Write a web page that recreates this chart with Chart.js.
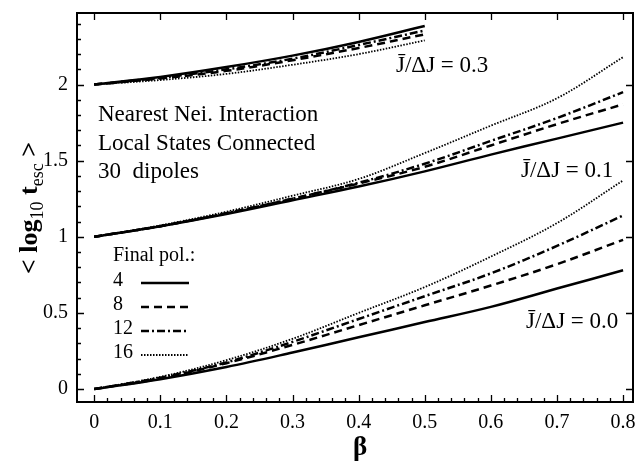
<!DOCTYPE html>
<html>
<head>
<meta charset="utf-8">
<script src="https://cdn.jsdelivr.net/npm/chart.js@4/dist/chart.umd.min.js"></script>
<style>
  html,body{margin:0;padding:0;background:#fff;}
  #wrap{width:639px;height:461px;}
</style>
</head>
<body>
<div id="wrap"><canvas id="chart" width="639" height="461"></canvas></div>
<script>
/* ==========================================
   DATA
========================================== */
const beta = [0,0.1,0.2,0.3,0.4,0.5,0.6,0.7,0.8];

// J/dJ = 0.3 (only up to beta = 0.5)
const top4  = [2.00,2.05,2.115,2.19,2.28,2.385];
const top8  = [2.00,2.04,2.09,2.16,2.24,2.33];
const top12 = [2.00,2.045,2.10,2.17,2.26,2.355];
const top16 = [2.00,2.03,2.07,2.13,2.20,2.29];

// J/dJ = 0.1
const mid4  = [1.00,1.07,1.15,1.24,1.33,1.43,1.54,1.645,1.75];
const mid8  = [1.00,1.07,1.155,1.25,1.35,1.46,1.60,1.74,1.87];
const mid12 = [1.00,1.07,1.155,1.25,1.355,1.48,1.63,1.78,1.95];
const mid16 = [1.00,1.075,1.165,1.27,1.38,1.55,1.73,1.91,2.18];

// J/dJ = 0.0
const low4  = [0.00,0.065,0.145,0.24,0.34,0.44,0.54,0.66,0.78];
const low8  = [0.00,0.07,0.17,0.29,0.42,0.55,0.68,0.82,0.98];
const low12 = [0.00,0.075,0.175,0.31,0.46,0.61,0.76,0.94,1.14];
const low16 = [0.00,0.08,0.19,0.33,0.50,0.67,0.87,1.09,1.37];

const polLabels = ["4","8","12","16"];
const xTicks = [0,0.1,0.2,0.3,0.4,0.5,0.6,0.7,0.8];
const yTicks = [0,0.5,1,1.5,2];

/* ==========================================
   STYLES
========================================== */
const dashes = [[],[8,5],[8,3,2,3],[1.5,1.5]];
const widths = [2.5,2.5,2.5,1.8];

function pts(vals){
  return vals.map((v,i)=>({x:beta[i],y:v}));
}

function ds(vals,k){
  return {
    data:pts(vals),
    borderColor:"#000",
    borderWidth:widths[k],
    borderDash:dashes[k],
    pointRadius:0,
    fill:false,
    tension:0.35
  };
}

const groups = [
  [top4,top8,top12,top16],
  [mid4,mid8,mid12,mid16],
  [low4,low8,low12,low16]
];

const datasets = [];
groups.forEach(g=>{
  g.forEach((vals,k)=>{
    datasets.push(ds(vals,k));
  });
});

const SERIF = "'Liberation Serif', 'Times New Roman', serif";

/* ==========================================
   FRAME, TICKS AND TEXT
========================================== */
const decor = {
  id:"decor",
  afterDraw(chart){
    const ctx = chart.ctx;
    const a = chart.chartArea;
    const xs = chart.scales.x;
    const ys = chart.scales.y;

    ctx.save();
    ctx.strokeStyle = "#000";
    ctx.lineWidth = 2;
    ctx.strokeRect(a.left,a.top,a.right-a.left,a.bottom-a.top);

    ctx.lineWidth = 1.3;
    ctx.beginPath();
    // bottom minor + major, top major
    for(let i=0;i<=40;i++){
      const v = i*0.02;
      const px = Math.round(xs.getPixelForValue(v))+0.5;
      const major = i%5===0;
      ctx.moveTo(px,a.bottom);
      ctx.lineTo(px,a.bottom-(major?7:4));
      if(major){
        ctx.moveTo(px,a.top);
        ctx.lineTo(px,a.top+7);
      }
    }
    // left minor + major, right major
    for(let i=0;i<=24;i++){
      const v = i*0.1;
      const py = Math.round(ys.getPixelForValue(v))+0.5;
      const major = i%5===0;
      ctx.moveTo(a.left,py);
      ctx.lineTo(a.left+(major?7:4),py);
      if(major){
        ctx.moveTo(a.right,py);
        ctx.lineTo(a.right-7,py);
      }
    }
    ctx.stroke();

    // annotation text
    ctx.fillStyle = "#000";
    ctx.textBaseline = "middle";
    ctx.textAlign = "left";
    ctx.font = "23px " + SERIF;
    ctx.fillText("Nearest Nei. Interaction",98,115);
    ctx.fillText("Local States Connected",98,144);
    ctx.fillText("30  dipoles",98,172);

    ctx.fillText("J\u0304/\u0394J = 0.3",396,66);
    ctx.fillText("J\u0304/\u0394J = 0.1",521,171);
    ctx.fillText("J\u0304/\u0394J = 0.0",526,322);

    // legend
    ctx.font = "20px " + SERIF;
    ctx.fillText("Final pol.:",113,256);
    const ly = [281,305,329,353];
    polLabels.forEach((t,k)=>{
      ctx.fillText(t,113,ly[k]);
      ctx.beginPath();
      ctx.lineWidth = widths[k];
      ctx.setLineDash(dashes[k]);
      ctx.moveTo(141,ly[k]+2);
      ctx.lineTo(189,ly[k]+2);
      ctx.stroke();
    });
    ctx.setLineDash([]);

    // x title
    ctx.textAlign = "center";
    ctx.textBaseline = "alphabetic";
    ctx.font = "bold 27px " + SERIF;
    ctx.fillText("\u03b2",360,455);

    // y title with subscripts
    ctx.translate(37,208);
    ctx.rotate(-Math.PI/2);
    const big = "bold 26px " + SERIF;
    const small = "18px " + SERIF;
    const parts = [
      ["< log",big,0],
      ["10",small,6],
      [" t",big,0],
      ["esc",small,6],
      [" >",big,0]
    ];
    let total = 0;
    parts.forEach(p=>{
      ctx.font = p[1];
      total += ctx.measureText(p[0]).width;
    });
    let x = -total/2;
    ctx.textAlign = "left";
    parts.forEach(p=>{
      ctx.font = p[1];
      ctx.fillText(p[0],x,p[2]);
      x += ctx.measureText(p[0]).width;
    });
    ctx.restore();
  }
};

/* ==========================================
   CHART
========================================== */
new Chart(
  document.getElementById("chart"),
  {
    type:"line",
    data:{datasets},
    options:{
      responsive:false,
      animation:false,
      devicePixelRatio:1,
      layout:{padding:{top:13,right:6,left:0,bottom:0}},
      plugins:{
        legend:{display:false},
        tooltip:{enabled:false}
      },
      scales:{
        x:{
          type:"linear",
          min:-0.026,
          max:0.815,
          afterBuildTicks:s=>{
            s.ticks = xTicks.map(v=>({value:v}));
          },
          afterFit:s=>{
            s.height = 59;
            s.paddingLeft = 0;
            s.paddingRight = 0;
          },
          grid:{display:false,drawTicks:false},
          border:{display:false},
          ticks:{
            color:"#000",
            padding:9,
            maxRotation:0,
            font:{family:SERIF,size:20},
            callback:v=>String(v)
          }
        },
        y:{
          type:"linear",
          min:-0.085,
          max:2.47,
          afterBuildTicks:s=>{
            s.ticks = yTicks.map(v=>({value:v}));
          },
          afterFit:s=>{
            s.width = 77;
            s.paddingTop = 0;
            s.paddingBottom = 0;
          },
          grid:{display:false,drawTicks:false},
          border:{display:false},
          ticks:{
            color:"#000",
            padding:9,
            font:{family:SERIF,size:20},
            callback:v=>String(v)
          }
        }
      }
    },
    plugins:[decor]
  }
);
</script>
</body>
</html>
